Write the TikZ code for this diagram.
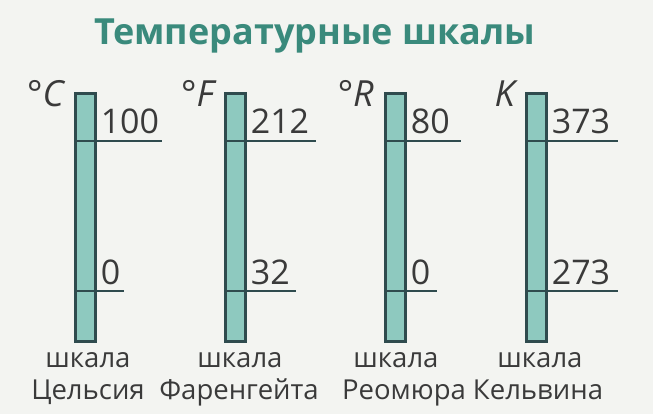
\documentclass[tikz,border=0pt]{standalone}
\usepackage{fontspec}
\setmainfont{Open Sans}
\definecolor{bg}{HTML}{F3F4F1}
\definecolor{barfill}{HTML}{8EC9BF}
\definecolor{barline}{HTML}{2F4B4E}
\definecolor{titlec}{HTML}{3A8A7C}
\definecolor{txt}{HTML}{3A3A3A}
\begin{document}
\begin{tikzpicture}[x=1pt,y=1pt,
  bar/.style={draw=barline,fill=barfill,line width=2.6pt,minimum width=20pt,minimum height=248pt,inner sep=0pt,anchor=north west},
  tick/.style={draw=barline,line width=2.6pt},
  num/.style={font=\fontsize{34}{34}\selectfont,text=txt,anchor=base west,inner sep=0pt},
  unit/.style={font=\fontsize{36}{36}\selectfont\itshape,text=txt,anchor=base east,inner sep=0pt},
  lab/.style={font=\fontsize{27.5}{27.5}\selectfont,text=txt,anchor=base,inner sep=0pt},
  ttl/.style={font=\fontsize{36}{36}\selectfont\bfseries,text=titlec,anchor=base,inner sep=0pt}]
\fill[bg] (0,-414) rectangle (653,0);
\useasboundingbox (0,-414) rectangle (653,0);
\node[ttl] (title) at (315,-45) {Температурные шкалы};
% bars
\node[bar] (bc) at (74,-92) {};
\node[bar] (bf) at (224,-92) {};
\node[bar] (br) at (384,-92) {};
\node[bar] (bk) at (525,-92) {};
% tick ends
\coordinate (cu) at (162,-141); \coordinate (cl) at (124,-291);
\coordinate (fu) at (316,-141); \coordinate (fl) at (296,-291);
\coordinate (ru) at (461,-141); \coordinate (rl) at (437,-291);
\coordinate (ku) at (618,-141); \coordinate (kl) at (618,-291);
\foreach \b/\e in {bc/cu,bc/cl,bf/fu,bf/fl,br/ru,br/rl,bk/ku,bk/kl}
  \draw[tick] (\b.west |- \e) -- (\e);
% numbers
\node[num] (n1) at ([xshift=4pt]bc.east |- 0,-134) {100};
\node[num] (n2) at ([xshift=4pt]bc.east |- 0,-284) {0};
\node[num] (n3) at ([xshift=4pt]bf.east |- 0,-134) {212};
\node[num] (n4) at ([xshift=4pt]bf.east |- 0,-284) {32};
\node[num] (n5) at ([xshift=4pt]br.east |- 0,-134) {80};
\node[num] (n6) at ([xshift=4pt]br.east |- 0,-284) {0};
\node[num] (n7) at ([xshift=4pt]bk.east |- 0,-134) {373};
\node[num] (n8) at ([xshift=4pt]bk.east |- 0,-284) {273};
% units
\node[unit] (uc) at ([xshift=-10pt]bc.west |- 0,-107) {°C};
\node[unit] (uf) at ([xshift=-10pt]bf.west |- 0,-107) {°F};
\node[unit] (ur) at ([xshift=-10pt]br.west |- 0,-107) {°R};
\node[unit] (uk) at ([xshift=-10pt]bk.west |- 0,-107) {K};
% labels
\node[lab] (l1a) at (88,-367) {шкала};
\node[lab] (l1b) at (88,-399) {Цельсия};
\node[lab] (l2a) at (240,-367) {шкала};
\node[lab] (l2b) at (239,-399) {Фаренгейта};
\node[lab] (l3a) at (396,-367) {шкала};
\node[lab] (l3b) at (404,-399) {Реомюра};
\node[lab] (l4a) at (540,-367) {шкала};
\node[lab] (l4b) at (538,-399) {Кельвина};
\end{tikzpicture}
\end{document}
